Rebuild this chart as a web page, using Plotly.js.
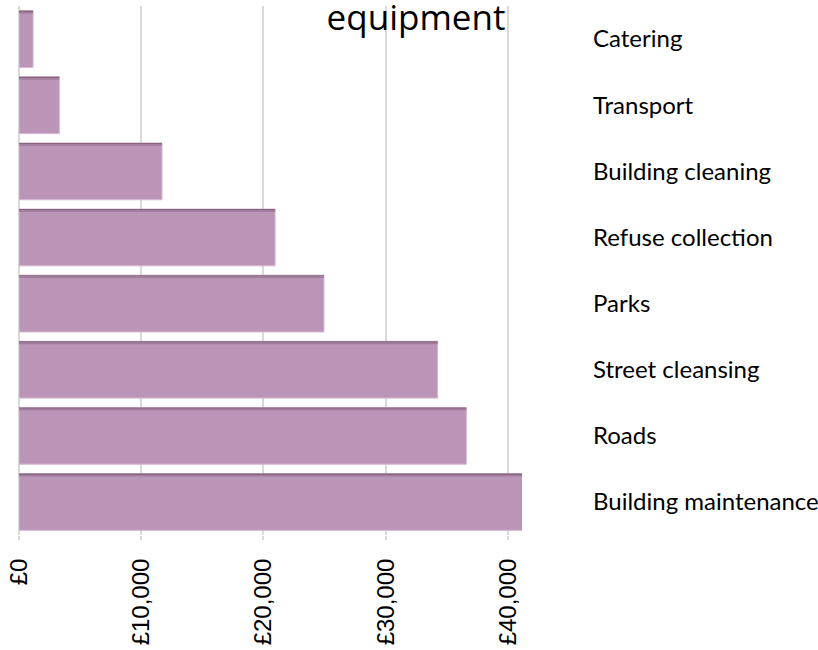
<!DOCTYPE html>
<html><head><meta charset="utf-8">
<script src="https://cdn.plot.ly/plotly-3.0.1.min.js"></script>
<style>html,body{margin:0;padding:0;background:#fff}</style>
</head><body>
<div id="chart" style="width:818px;height:650px"></div>
<script>
const categories = ["Catering","Transport","Building cleaning","Refuse collection","Parks","Street cleansing","Roads","Building maintenance"];
const spend = [1150, 3300, 11700, 20950, 24950, 34250, 36600, 41800];
const xTickValues = [0, 10000, 20000, 30000, 40000];
const xTickLabels = ["\u00a30", "\u00a310,000", "\u00a320,000", "\u00a330,000", "\u00a340,000"];
const titleText = "equipment";

const halfWidth = 0.43;
const shapes = [];
spend.forEach(function(v, i){
  shapes.push({type:'rect', xref:'x', yref:'y', x0:0, x1:v, y0:i-halfWidth, y1:i-halfWidth+0.022,
    fillcolor:'#86657f', line:{width:0}, layer:'above'});
  shapes.push({type:'rect', xref:'x', yref:'y', x0:0, x1:v, y0:i-halfWidth+0.022, y1:i-halfWidth+0.045,
    fillcolor:'#a17e9c', line:{width:0}, layer:'above'});
});

const trace = {
  type:'bar', orientation:'h',
  x: spend, y: categories,
  marker:{color:'#bb95b8', line:{color:'#d6b9d2', width:1}},
  hoverinfo:'x+y'
};

const layout = {
  width:818, height:650,
  margin:{l:19, r:296, t:6, b:115},
  paper_bgcolor:'#fff', plot_bgcolor:'#fff',
  bargap:0.14,
  showlegend:false,
  title:{text:titleText, font:{family:'Open Sans', size:35, color:'#000'},
         x:416/818, xanchor:'center', xref:'container', y:1-30/650, yref:'container', yanchor:'bottom'},
  xaxis:{range:[0, 41150], tickmode:'array', tickvals:xTickValues, ticktext:xTickLabels,
         tickangle:-90, showgrid:true, gridcolor:'#d9d9d9', gridwidth:2,
         zeroline:true, zerolinecolor:'#d9d9d9', zerolinewidth:2, showline:false,
         ticks:'outside', ticklen:4, tickcolor:'#d9d9d9', tickwidth:2,
         tickfont:{family:'Liberation Sans, Arial', size:24, color:'#000'}, ticklabelstandoff:9},
  yaxis:{type:'category', autorange:'reversed', side:'right', showgrid:false, zeroline:false,
         showline:false, ticks:'', ticklabelstandoff:70,
         tickfont:{family:'Lato', size:24, color:'#000'}},
  shapes: shapes
};
Plotly.newPlot('chart', [trace], layout, {displayModeBar:false, staticPlot:true});
</script>
</body></html>
